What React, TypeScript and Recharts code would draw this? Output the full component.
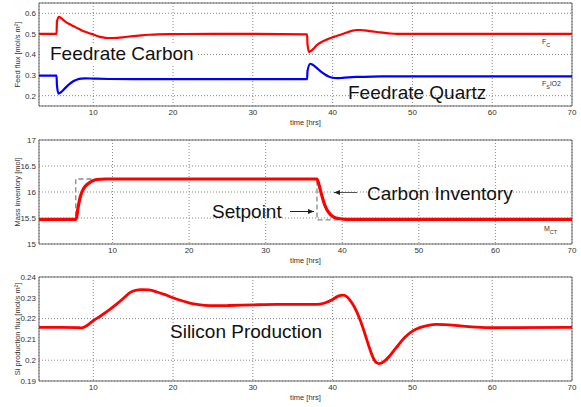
import { LineChart, Line, XAxis, YAxis, CartesianGrid, ReferenceArea } from 'recharts';

const FONT = '"Liberation Sans", Arial, Helvetica, sans-serif';

const timeTicks = [10, 20, 30, 40, 50, 60, 70];

// feed fluxes [mol/s m2]
const carbonTime = [3.2, 5.4, 5.45, 5.7, 6.0, 6.5, 7.0, 7.5, 8.0, 8.5, 9.0, 9.5, 10.0, 10.5, 11.0, 11.5, 12.0, 12.5, 13.0, 14.0, 15.0, 16.0, 17.0, 18.0, 20.0, 25.0, 30.0, 36.8, 36.85, 37.05, 37.3, 37.7, 38.0, 38.5, 39.0, 39.5, 40.0, 40.5, 41.0, 41.5, 42.0, 42.5, 43.0, 43.5, 44.0, 45.0, 46.0, 47.0, 48.0, 50.0, 70.0];
const carbonFlux = [0.5, 0.5, 0.56, 0.583, 0.575, 0.56, 0.548, 0.538, 0.528, 0.518, 0.51, 0.503, 0.497, 0.49, 0.484, 0.481, 0.48, 0.48, 0.481, 0.485, 0.489, 0.493, 0.496, 0.498, 0.499, 0.5, 0.5, 0.498, 0.45, 0.412, 0.418, 0.432, 0.445, 0.458, 0.468, 0.476, 0.484, 0.49, 0.496, 0.503, 0.51, 0.516, 0.519, 0.519, 0.517, 0.512, 0.507, 0.503, 0.5, 0.5, 0.5];

const quartzTime = [3.2, 5.4, 5.45, 5.65, 6.0, 6.5, 7.0, 7.5, 8.0, 8.5, 9.0, 10, 12, 15, 20, 30, 36.8, 36.85, 37.2, 37.5, 38, 38.5, 39, 39.5, 40, 40.5, 41, 42, 43, 45, 50, 70];
const quartzFlux = [0.297, 0.297, 0.25, 0.21, 0.218, 0.238, 0.256, 0.27, 0.279, 0.283, 0.284, 0.283, 0.281, 0.28, 0.28, 0.28, 0.28, 0.32, 0.355, 0.35, 0.335, 0.318, 0.304, 0.293, 0.287, 0.285, 0.286, 0.289, 0.291, 0.293, 0.294, 0.294];

// carbon inventory [mol]
const massTime = [0.4, 5.25, 5.5, 5.75, 6.0, 6.5, 7.0, 7.5, 8.0, 9.0, 36.7, 37.0, 37.3, 37.6, 38.0, 38.5, 39.0, 39.5, 40.5, 70];
const massValue = [15.475, 15.475, 15.7, 15.88, 16.0, 16.12, 16.18, 16.22, 16.24, 16.25, 16.25, 16.12, 15.95, 15.8, 15.66, 15.56, 15.51, 15.49, 15.475, 15.475];
const setpointTime = [0.4, 5.2, 5.2, 36.7, 36.7, 70];
const setpointValue = [15.47, 15.47, 16.25, 16.25, 15.465, 15.465];

// silicon production flux [mol/s m2]
const siTime = [3.2, 6, 8, 8.5, 9.0, 9.5, 10, 11, 12, 13, 14, 14.6, 15.3, 16, 17, 18, 19, 20, 21, 22, 23, 24, 25, 27, 30, 33, 36, 38, 39, 40, 40.7, 41.3, 41.8, 42.3, 43, 43.5, 44, 44.5, 44.9, 45.2, 45.5, 45.8, 46.2, 46.6, 47, 48, 49, 50, 51, 52, 53, 54, 56, 58, 60, 63, 70];
const siFlux = [0.2158, 0.2158, 0.2157, 0.2155, 0.2162, 0.2175, 0.219, 0.2215, 0.2242, 0.2272, 0.2305, 0.2325, 0.2336, 0.2339, 0.2338, 0.2328, 0.2315, 0.23, 0.2287, 0.2276, 0.2268, 0.2264, 0.2262, 0.2263, 0.2266, 0.2268, 0.2268, 0.2268, 0.2275, 0.2292, 0.2308, 0.2313, 0.2305, 0.2282, 0.2235, 0.2188, 0.2132, 0.2072, 0.2028, 0.2002, 0.1988, 0.1984, 0.1988, 0.1999, 0.2014, 0.2062, 0.2108, 0.214, 0.2158, 0.2168, 0.2172, 0.2171, 0.2165, 0.2159, 0.2156, 0.2157, 0.2158];

const feedTicks = [0.2, 0.3, 0.4, 0.5, 0.6];
const massTicks = [15, 15.5, 16, 16.5, 17];
const siTicks = [0.19, 0.2, 0.21, 0.22, 0.23, 0.24];

const zip = (t: number[], v: number[]) => t.map((x, i) => ({ t: x, v: v[i] }));

const tickStyle = { fontSize: 8, fill: '#333', fontFamily: FONT };

function panelAxes(xDomain: number[], yDomain: number[], yTicks: number[], yLabel: string) {
  return [
    <CartesianGrid key="grid" stroke="#888" strokeDasharray="1 2" />,
    <XAxis
      key="x"
      type="number"
      dataKey="t"
      domain={xDomain}
      ticks={timeTicks}
      allowDataOverflow
      axisLine={false}
      tickLine={false}
      tickSize={0}
      tickMargin={3}
      height={24}
      tick={tickStyle}
      label={{ value: 'time [hrs]', position: 'insideBottom', offset: 5, fontSize: 7.5, fill: '#333', fontFamily: FONT }}
    />,
    <YAxis
      key="y"
      type="number"
      domain={yDomain}
      ticks={yTicks}
      allowDataOverflow
      axisLine={false}
      tickLine={false}
      tickSize={0}
      tickMargin={3}
      width={30}
      tick={tickStyle}
      label={{ value: yLabel, angle: -90, position: 'insideLeft', offset: 8, fontSize: 7.5, fill: '#333', fontFamily: FONT, style: { textAnchor: 'middle' } }}
    />,
    <ReferenceArea key="frame" x1={xDomain[0]} x2={xDomain[1]} y1={yDomain[0]} y2={yDomain[1]} fill="none" stroke="#666" strokeWidth={1} fillOpacity={0} />,
  ];
}

export default function App() {
  const margin = (top: number) => ({ top, right: 9, bottom: 0, left: 9 });
  return (
    <div style={{ position: 'absolute', left: 0, top: 0, width: 581, height: 407, background: '#fff', fontFamily: FONT }}>
      <div style={{ position: 'absolute', left: 0, top: 0 }}>
        <LineChart width={581} height={130} margin={margin(3)}>
          {panelAxes([3.2, 70], [0.15, 0.65], feedTicks, 'Feed flux [mol/s m²]')}
          <Line data={zip(carbonTime, carbonFlux)} dataKey="v" type="monotone" stroke="#ff0000" strokeWidth={2.2} dot={false} isAnimationActive={false} />
          <Line data={zip(quartzTime, quartzFlux)} dataKey="v" type="monotone" stroke="#0000ff" strokeWidth={2.2} dot={false} isAnimationActive={false} />
        </LineChart>
      </div>
      <div style={{ position: 'absolute', left: 0, top: 130 }}>
        <LineChart width={581} height={138} margin={margin(10)}>
          {panelAxes([0.4, 70], [15, 17], massTicks, 'Mass inventory [mol]')}
          <Line data={zip(setpointTime, setpointValue)} dataKey="v" type="linear" stroke="#888" strokeWidth={1.3} strokeDasharray="5 3" dot={false} isAnimationActive={false} />
          <Line data={zip(massTime, massValue)} dataKey="v" type="monotone" stroke="#ff0000" strokeWidth={3.2} dot={false} isAnimationActive={false} />
        </LineChart>
      </div>
      <div style={{ position: 'absolute', left: 0, top: 268 }}>
        <LineChart width={581} height={137} margin={margin(9)}>
          {panelAxes([3.2, 70], [0.19, 0.24], siTicks, 'Si production flux [mol/s m²]')}
          <Line data={zip(siTime, siFlux)} dataKey="v" type="monotone" stroke="#ff0000" strokeWidth={2.8} dot={false} isAnimationActive={false} />
        </LineChart>
      </div>
      <svg width={581} height={407} style={{ position: 'absolute', left: 0, top: 0, pointerEvents: 'none' }} fontFamily={FONT}>
        <defs>
          <marker id="arrow" viewBox="0 0 10 10" refX="10" refY="5" markerWidth="6" markerHeight="6" orient="auto-start-reverse">
            <path d="M0,1 L10,5 L0,9 z" fill="#222" />
          </marker>
        </defs>
        <rect x={40} y={45} width={158} height={19} fill="#fff" />
        <text x={50} y={60} fontSize={19} fill="#111">Feedrate Carbon</text>
        <text x={348} y={99} fontSize={19} fill="#111">Feedrate Quartz</text>
        <text x={542} y={44} fontSize={7} fill="#333">F<tspan fontSize={5.5} dy={2.5}>C</tspan></text>
        <text x={542} y={86} fontSize={7} fill="#333">F<tspan fontSize={5.5} dy={2.5}>S</tspan><tspan dy={-2.5}>iO2</tspan></text>
        <text x={367} y={200} fontSize={19} fill="#111">Carbon Inventory</text>
        <line x1={357} y1={192.5} x2={334} y2={192.5} stroke="#555" strokeWidth={1} markerEnd="url(#arrow)" />
        <text x={212} y={218} fontSize={19} fill="#111">Setpoint</text>
        <line x1={290} y1={211.5} x2={314} y2={211.5} stroke="#222" strokeWidth={1} markerEnd="url(#arrow)" />
        <text x={544} y={231} fontSize={7} fill="#333">M<tspan fontSize={5.5} dy={2.5}>CT</tspan></text>
        <text x={170} y={338} fontSize={19} fill="#111">Silicon Production</text>
      </svg>
    </div>
  );
}
